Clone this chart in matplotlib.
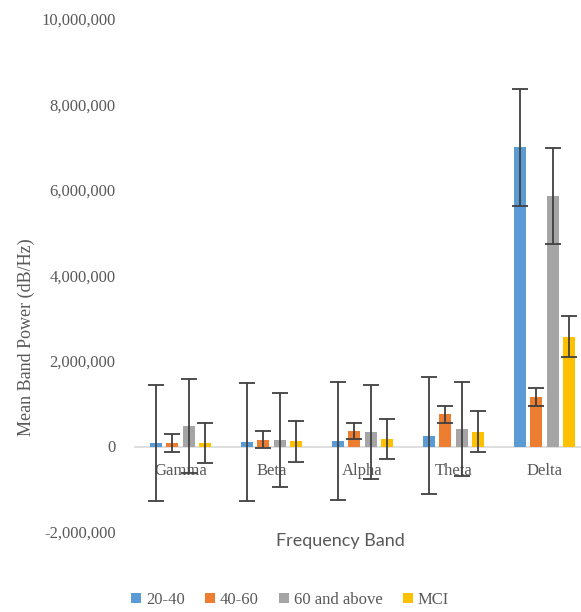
import numpy as np
import matplotlib.pyplot as plt
from matplotlib.ticker import FuncFormatter

# data
bands = ['Gamma', 'Beta', 'Alpha', 'Theta', 'Delta']
groups = ['20-40', '40-60', '60 and above', 'MCI']
colors = ['#5B9BD5', '#ED7D31', '#A5A5A5', '#FFC000']

mean_20_40 = [80000, 100000, 130000, 250000, 7000000]
mean_40_60 = [90000, 160000, 370000, 750000, 1150000]
mean_60_up = [470000, 150000, 330000, 400000, 5860000]
mean_mci = [90000, 120000, 180000, 350000, 2570000]

err_20_40 = [1360000, 1380000, 1370000, 1370000, 1370000]
err_40_60 = [210000, 200000, 190000, 190000, 210000]
err_60_up = [1100000, 1100000, 1100000, 1100000, 1120000]
err_mci = [470000, 480000, 470000, 490000, 480000]

means = [mean_20_40, mean_40_60, mean_60_up, mean_mci]
errs = [err_20_40, err_40_60, err_60_up, err_mci]

serif = ['Liberation Serif', 'DejaVu Serif']
txt = '#595959'

fig = plt.figure(figsize=(5.81, 6.12), dpi=100)
ax = fig.add_axes([135/581, 80/612, 455/581, 513/612])

x = np.arange(len(bands))
step = 0.18
width = 0.135
for i in range(4):
    ax.bar(x + (i - 1.5)*step, means[i], width, color=colors[i], label=groups[i],
           yerr=errs[i], error_kw=dict(ecolor='#404040', elinewidth=1.3, capsize=5.5, capthick=1.3))

ax.set_xlim(-0.5, 4.5)
ax.set_ylim(-2000000, 10000000)
ax.set_yticks(np.arange(-2000000, 10000001, 2000000))
ax.yaxis.set_major_formatter(FuncFormatter(lambda v, p: '{:,.0f}'.format(v)))

for s in ['top', 'right', 'left']:
    ax.spines[s].set_visible(False)
ax.spines['bottom'].set_position(('data', 0))
ax.spines['bottom'].set_color('#d9d9d9')
ax.spines['bottom'].set_linewidth(1.2)
ax.spines['bottom'].set_zorder(0)

ax.set_xticks(x)
ax.set_xticklabels(bands, family=serif, fontsize=12, color=txt)
ax.tick_params(axis='x', length=0, pad=12)
ax.tick_params(axis='y', length=0, pad=14, labelsize=12, labelcolor=txt)
for lab in ax.get_yticklabels():
    lab.set_family(serif)

fig.text(0.045, 275/612, 'Mean Band Power (dB/Hz)', rotation=90, ha='center', va='center',
         family=serif, fontsize=13, color=txt)
fig.text(340/581, 1 - 541/612, 'Frequency Band', ha='center', va='center',
         family='Lato', fontsize=13, color=txt)

leg = fig.legend(loc='center', bbox_to_anchor=(290/581, 1 - 600/612), ncol=4, frameon=False,
                 prop={'family': 'Liberation Serif', 'size': 12}, handlelength=0.6, handleheight=0.6,
                 handletextpad=0.3, columnspacing=1.2)
for t in leg.get_texts():
    t.set_color(txt)

fig.savefig('out.png', dpi=100)
